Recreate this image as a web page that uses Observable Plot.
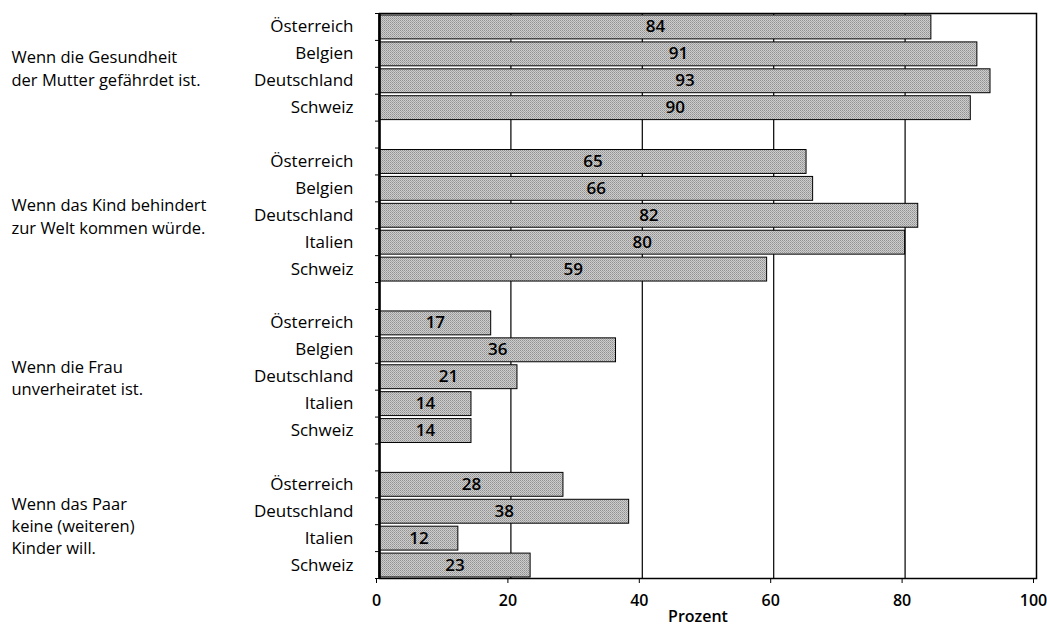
<!DOCTYPE html>
<html><head><meta charset="utf-8">
<script src="https://cdn.jsdelivr.net/npm/d3@7"></script>
<script src="https://cdn.jsdelivr.net/npm/@observablehq/plot@0.6"></script>
<style>html,body{margin:0;padding:0;background:#fff}svg{display:block}</style>
</head><body><div id="chart"></div>
<script>
// Data
const groupLabels = [
  "Wenn die Gesundheit\nder Mutter gefährdet ist.",
  "Wenn das Kind behindert\nzur Welt kommen würde.",
  "Wenn die Frau\nunverheiratet ist.",
  "Wenn das Paar\nkeine (weiteren)\nKinder will."
];
const countriesG1 = ["Österreich", "Belgien", "Deutschland", "Schweiz"];
const valuesG1 = [84, 91, 93, 90];
const countriesG2 = ["Österreich", "Belgien", "Deutschland", "Italien", "Schweiz"];
const valuesG2 = [65, 66, 82, 80, 59];
const countriesG3 = ["Österreich", "Belgien", "Deutschland", "Italien", "Schweiz"];
const valuesG3 = [17, 36, 21, 14, 14];
const countriesG4 = ["Österreich", "Deutschland", "Italien", "Schweiz"];
const valuesG4 = [28, 38, 12, 23];
const xTicks = [0, 20, 40, 60, 80, 100];
const xLabel = "Prozent";

const groupCountries = [countriesG1, countriesG2, countriesG3, countriesG4];
const groupValues = [valuesG1, valuesG2, valuesG3, valuesG4];

// Build rows (one empty slot between groups)
const rows = [];
const groups = [];
let i = 0;
groupCountries.forEach((cs, g) => {
  const start = i;
  cs.forEach((c, k) => { rows.push({group: g, country: c, value: groupValues[g][k], row: i}); i++; });
  groups.push({label: groupLabels[g], mid: (start + i) / 2});
  i++;
});
const nRows = i - 1;

const font = "'Open Sans', sans-serif";

const defs = () => {
  const s = d3.create("svg:defs");
  const p = s.append("pattern").attr("id", "halftone").attr("width", 2).attr("height", 2)
    .attr("patternUnits", "userSpaceOnUse");
  p.append("rect").attr("width", 2).attr("height", 2).attr("fill", "#cdcdcd");
  p.append("rect").attr("width", 1).attr("height", 1).attr("fill", "#919191");
  p.append("rect").attr("x", 1).attr("y", 1).attr("width", 1).attr("height", 1).attr("fill", "#a6a6a6");
  return s.node();
};

const chart = Plot.plot({
  width: 1047,
  height: 629,
  marginTop: 13,
  marginBottom: 51,
  marginLeft: 379,
  marginRight: 11,
  style: {fontFamily: font, fontSize: "15px", color: "black", background: "white"},
  x: {domain: [0, 100]},
  y: {domain: [0, nRows], reverse: true},
  marks: [
    defs,
    Plot.gridX(xTicks.slice(1, -1), {stroke: "black", strokeOpacity: 1, strokeWidth: 1.2}),
    Plot.rectX(rows, {
      x1: 0, x2: "value", y1: "row", y2: d => d.row + 1,
      insetTop: 2, insetBottom: 1,
      fill: "url(#halftone)", stroke: "black", strokeWidth: 1
    }),
    Plot.text(rows, {
      x: d => d.value / 2, y: d => d.row + 0.5, text: d => String(d.value),
      fontSize: 17, fontWeight: 600, fill: "black"
    }),
    Plot.text(rows, {
      y: d => d.row + 0.5, text: "country", frameAnchor: "left", textAnchor: "end",
      dx: -26, fontSize: 17, fill: "black"
    }),
    Plot.text(groups, {
      y: "mid", text: "label", frameAnchor: "left", textAnchor: "start",
      dx: -368, fontSize: 16.5, lineHeight: 1.35, fill: "black"
    }),
    Plot.axisX({ticks: xTicks, tickSize: 5, tickPadding: 11, fontSize: 16, fontWeight: 600, label: null, stroke: "black", dx: -3}),
    Plot.axisY({ticks: d3.range(0, nRows + 1), tickSize: 4, tickFormat: () => "", label: null, stroke: "black"}),
    Plot.frame({stroke: "black", strokeWidth: 1.5}),
    Plot.ruleX([0], {stroke: "black", strokeWidth: 2.5}),
    Plot.text([xLabel], {frameAnchor: "bottom", dy: 43, dx: -10, fontSize: 16, fontWeight: 600, fill: "black"})
  ]
});
document.getElementById("chart").append(chart);
</script>
</body></html>
